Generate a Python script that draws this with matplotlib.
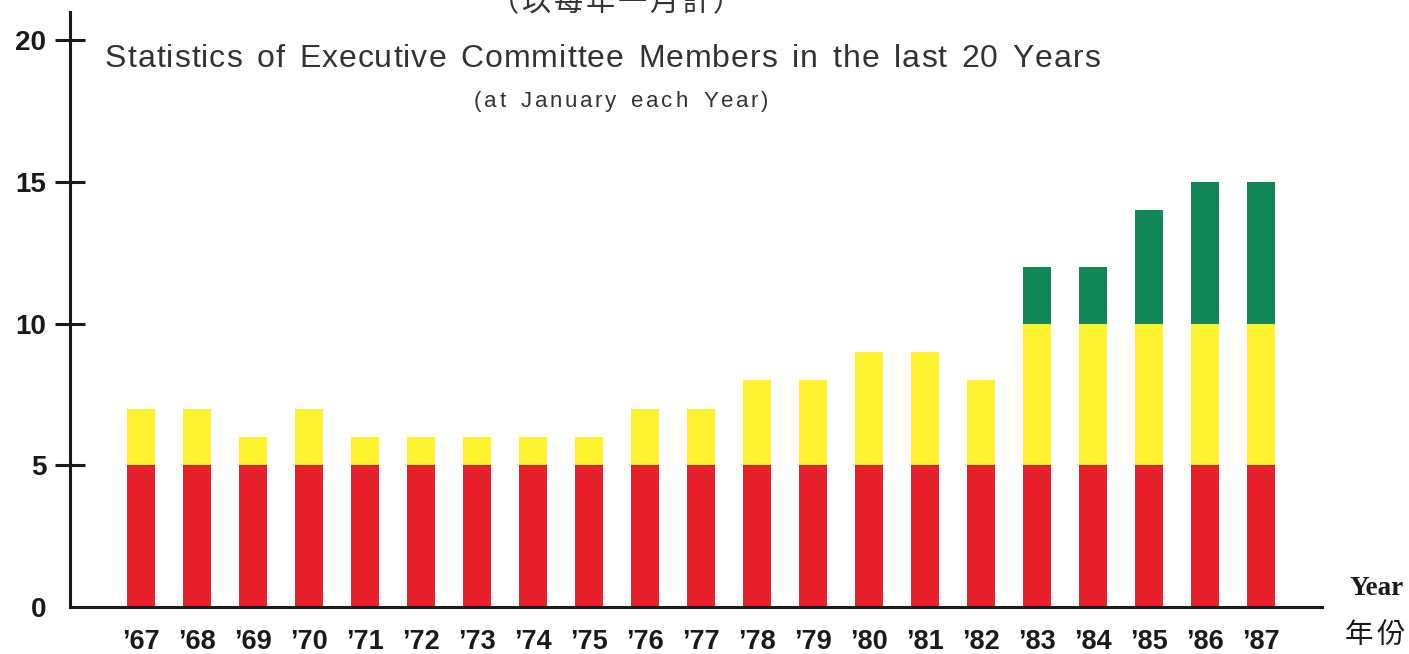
import matplotlib
matplotlib.use("Agg")
import matplotlib.pyplot as plt
import numpy as np

# Executive Committee membership, January of each year
years = ["'67", "'68", "'69", "'70", "'71", "'72", "'73", "'74", "'75", "'76",
         "'77", "'78", "'79", "'80", "'81", "'82", "'83", "'84", "'85", "'86", "'87"]
year_labels = [y.replace("'", "\u2019") for y in years]
red_members = [5, 5, 5, 5, 5, 5, 5, 5, 5, 5, 5, 5, 5, 5, 5, 5, 5, 5, 5, 5, 5]
yellow_members = [2, 2, 1, 2, 1, 1, 1, 1, 1, 2, 2, 3, 3, 4, 4, 3, 5, 5, 5, 5, 5]
green_members = [0, 0, 0, 0, 0, 0, 0, 0, 0, 0, 0, 0, 0, 0, 0, 0, 2, 2, 4, 5, 5]
y_ticks = [0, 5, 10, 15, 20]

RED = "#e8202c"
YELLOW = "#fdf22f"
GREEN = "#12885a"
INK = "#1a1a1a"

W_PX, H_PX = 1409, 654
fig = plt.figure(figsize=(W_PX / 100, H_PX / 100), dpi=100)
fig.patch.set_facecolor("white")

ax_left, ax_right, ax_bottom, ax_top = 70, 1322, 607, 12
ax = fig.add_axes([ax_left / W_PX, 1 - ax_bottom / H_PX,
                   (ax_right - ax_left) / W_PX, (ax_bottom - ax_top) / H_PX])

x = np.arange(len(years))
red = np.array(red_members)
yellow = np.array(yellow_members)
green = np.array(green_members)
bw = 0.5
ax.bar(x, red, width=bw, color=RED, linewidth=0)
ax.bar(x, yellow, width=bw, bottom=red, color=YELLOW, linewidth=0)
ax.bar(x, green, width=bw, bottom=red + yellow, color=GREEN, linewidth=0)

ax.set_xlim(-1.27, 21.09)
ax.set_ylim(0, 21)

for side in ("top", "right"):
    ax.spines[side].set_visible(False)
for side in ("left", "bottom"):
    ax.spines[side].set_linewidth(2.2)
    ax.spines[side].set_color(INK)

ax.set_yticks(y_ticks)
ax.set_yticklabels([str(v) for v in y_ticks], family="Liberation Sans",
                   weight="bold", size=20)
ax.tick_params(axis="y", direction="inout", length=21, width=2.2, pad=6.5,
               color=INK, labelcolor=INK)
ax.yaxis.get_major_ticks()[0].tick1line.set_visible(False)

ax.set_xticks(x)
ax.set_xticklabels(year_labels, family="Liberation Sans", weight="bold", size=19.5)
ax.tick_params(axis="x", length=0, pad=15.5, labelcolor=INK)


def spaced_text(s, x0, x1, y_base, letter_gap=1.0, **kw):
    """Draw s from pixel x0 to x1 at baseline y_base; letters sit letter_gap
    pixels apart and the word spaces stretch to fill the remaining width."""
    r = fig.canvas.get_renderer()

    def width(txt):
        t = fig.text(0, 0, txt, **kw)
        w = t.get_window_extent(r).width
        t.remove()
        return w

    bar_w = width("||")
    widths = [width("|" + ch + "|") - bar_w for ch in s]
    n_space = s.count(" ")
    letters = sum(w for ch, w in zip(s, widths) if ch != " ")
    gaps = (len(s) - 1 - 2 * n_space) * letter_gap
    if n_space:
        space_w = (x1 - x0 - letters - gaps) / n_space
        step = letter_gap
    else:
        space_w = 0
        step = (x1 - x0 - letters) / max(len(s) - 1, 1)
    cx = x0
    for i, ch in enumerate(s):
        if ch == " ":
            cx += space_w
            continue
        fig.text(cx / W_PX, 1 - y_base / H_PX, ch, ha="left", va="baseline", **kw)
        cx += widths[i]
        if i + 1 < len(s) and s[i + 1] != " ":
            cx += step


spaced_text("Statistics of Executive Committee Members in the last 20 Years",
            105, 1100, 67, letter_gap=1.0,
            family="Liberation Sans", size=23, color="#333333")
spaced_text("(at January each Year)", 474, 768, 107, letter_gap=2.6,
            family="Liberation Sans", size=16, color="#333333")
spaced_text("\uff08以每年一月計\uff09", 490, 742, 11,
            family="Noto Sans CJK TC", size=21, color="#333333")

fig.text(1350 / W_PX, 1 - 595 / H_PX, "Year", family="Liberation Serif",
         weight="bold", size=19.5, color=INK, ha="left", va="baseline")
spaced_text("年份", 1345, 1405, 643, family="Noto Sans CJK TC", size=20.5, color=INK)

fig.savefig("out.png", dpi=100, facecolor="white")
